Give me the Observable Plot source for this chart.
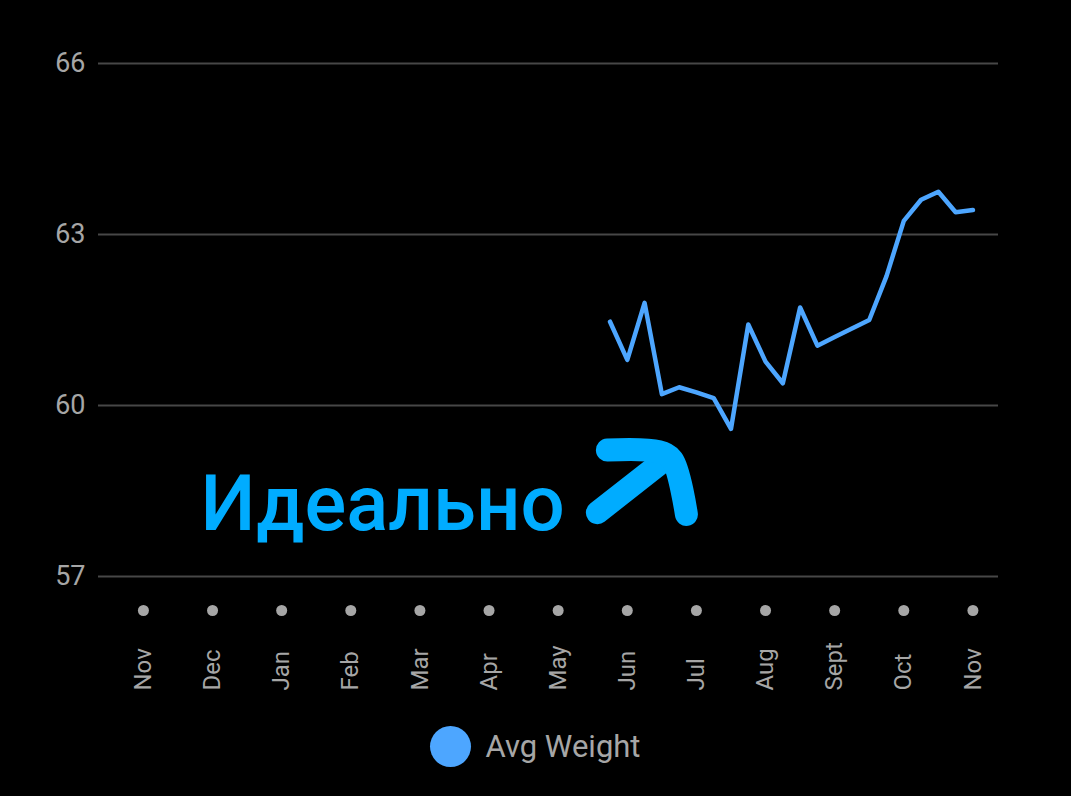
<!DOCTYPE html>
<html>
<head>
<meta charset="utf-8">
<script src="https://cdn.jsdelivr.net/npm/d3@7"></script>
<script src="https://cdn.jsdelivr.net/npm/@observablehq/plot@0.6"></script>
<style>
  html, body { margin: 0; padding: 0; background: #000; }
  #wrap { position: relative; width: 1071px; height: 796px; background: #000; font-family: Roboto, "Noto Sans", sans-serif; }
  #legend { position: absolute; left: 0; top: 726px; width: 1071px; display: flex; justify-content: center; align-items: center; gap: 14px; }
  #legend .sw { width: 41px; height: 41px; border-radius: 50%; background: #4da6ff; margin-left: 0px; }
  #legend .lb { color: #a6a6a6; font-size: 31px; font-family: Roboto, sans-serif; }
</style>
</head>
<body>
<div id="wrap">
  <div id="chart"></div>
  <div id="legend"><div class="sw"></div><div class="lb">Avg Weight</div></div>
</div>
<script>
// Month tick labels (index 0 = Nov of previous year, 12 = Nov)
const months = ["Nov","Dec","Jan","Feb","Mar","Apr","May","Jun","Jul","Aug","Sept","Oct","Nov"];
// Y ticks
const yTicks = [57, 60, 63, 66];
// Weekly positions (in month units) and average weight values
const weeks = [6.75, 7, 7.25, 7.5, 7.75, 8, 8.25, 8.5, 8.75, 9, 9.25, 9.5, 9.75, 10, 10.25, 10.5, 10.75, 11, 11.25, 11.5, 11.75, 12];
const weights = [61.47, 60.80, 61.80, 60.20, 60.32, 60.23, 60.13, 59.59, 61.42, 60.77, 60.39, 61.72, 61.05, 61.20, 61.35, 61.50, 62.27, 63.24, 63.61, 63.75, 63.39, 63.43];
// Annotation
const noteText = "Идеально";
const noteX = [0.825];
const noteY = [58.26];
const arrowSeg = ["shaft", "shaft", "hook", "hook", "hook", "hook"];
const arrowX = [6.567, 7.45, 6.712, 7.45, 7.65, 7.855];
const arrowY = [58.12, 58.96, 59.22, 59.19, 59.05, 58.09];

const series = weeks.map((w, i) => ({x: w, y: weights[i]}));
const monthData = months.map((m, i) => ({i, m}));
const arrowData = arrowX.map((x, i) => ({x, y: arrowY[i], seg: arrowSeg[i]}));
const noteData = [{x: noteX[0], y: noteY[0], t: noteText}];

const chart = Plot.plot({
  width: 1071,
  height: 720,
  marginLeft: 98,
  marginRight: 73,
  marginTop: 63,
  marginBottom: 144,
  style: {background: "#000", color: "#a6a6a6", fontFamily: "Roboto, sans-serif"},
  x: {domain: [-0.65, 12.37], axis: null},
  y: {domain: [57, 66], axis: null},
  marks: [
    Plot.ruleY(yTicks, {stroke: "#474747", strokeWidth: 2}),
    Plot.axisY(yTicks, {tickSize: 0, tickPadding: 13, fontSize: 27, label: null, fill: "#a6a6a6", tickFormat: "d"}),
    Plot.dot(monthData, {x: "i", frameAnchor: "bottom", dy: 34, r: 5.5, fill: "#a6a6a6", stroke: null}),
    Plot.text(monthData, {x: "i", text: "m", frameAnchor: "bottom", dy: 114, rotate: -90, textAnchor: "start", lineAnchor: "middle", fontSize: 24, fill: "#a6a6a6"}),
    Plot.line(series, {x: "x", y: "y", stroke: "#4da6ff", strokeWidth: 4.5, strokeLinejoin: "round"}),
    Plot.text(noteData, {x: "x", y: "y", text: "t", textAnchor: "start", lineAnchor: "middle", fontSize: 78, fontWeight: 500, fill: "#00acff"}),
    Plot.line(arrowData, {x: "x", y: "y", z: "seg", curve: "catmull-rom", stroke: "#00acff", strokeWidth: 23, strokeLinecap: "round", strokeLinejoin: "round"})
  ]
});
document.getElementById("chart").appendChild(chart);
</script>
</body>
</html>
